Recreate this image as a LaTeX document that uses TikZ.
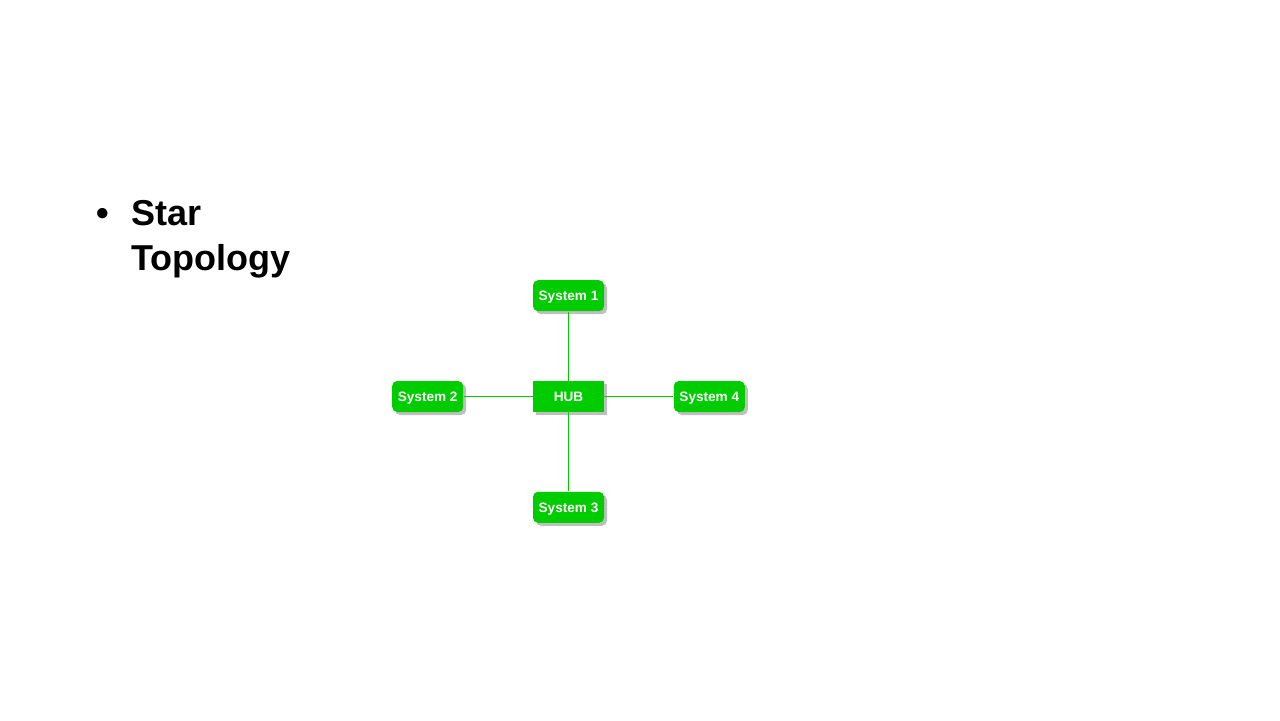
\documentclass[tikz,border=0pt]{standalone}
\usepackage{fontspec}
\setmainfont{Liberation Sans}
\usetikzlibrary{positioning,shadows}
\definecolor{hubgreen}{HTML}{00CC00}
\tikzset{
  sysbox/.style={fill=hubgreen,rounded corners=2.5pt,minimum width=35.5pt,minimum height=15.5pt,
    inner sep=0pt,text=white,font=\fontsize{6.8}{7}\selectfont\bfseries,text height=4.9pt,text depth=0pt,
    drop shadow={shadow xshift=1.5pt,shadow yshift=-1.5pt,fill=black!25,opacity=1}},
  hubbox/.style={sysbox,rounded corners=0pt},
  link/.style={hubgreen,line width=0.5pt}
}

\begin{document}
\begin{tikzpicture}[x=0.5pt,y=-0.5pt]
  \useasboundingbox (0,0) rectangle (1280,720);
  \node[anchor=base,inner sep=0pt,font=\fontsize{18}{22.5}\selectfont\bfseries] (dot) at (103,225) {\textbullet};
  \node[anchor=base west,inner sep=0pt,align=left,font=\fontsize{18}{22.5}\selectfont\bfseries] (title) at (131,270) {Star\\Topology};

  \node[hubbox] (hub) at (568.5,396.5) {HUB};
  \node[sysbox,above=34.5pt of hub] (sys1) {System 1};
  \node[sysbox,left=34.5pt of hub] (sys2) {System 2};
  \node[sysbox,below=39.5pt of hub] (sys3) {System 3};
  \node[sysbox,right=34.5pt of hub] (sys4) {System 4};

  \draw[link] (hub) -- (sys1);
  \draw[link] (hub) -- (sys2);
  \draw[link] (hub) -- (sys3);
  \draw[link] (hub) -- (sys4);
\end{tikzpicture}
\end{document}
